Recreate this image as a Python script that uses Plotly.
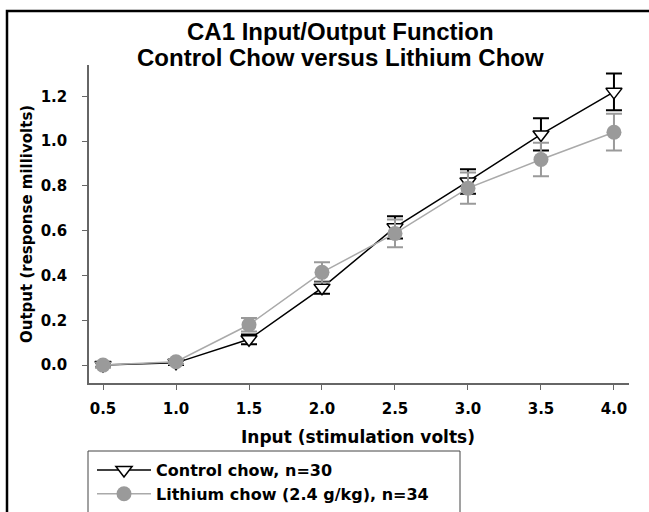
import plotly.graph_objects as go

# ---- data ----
stim_volts = [0.5, 1.0, 1.5, 2.0, 2.5, 3.0, 3.5, 4.0]
control_mean = [0.0, 0.01, 0.115, 0.345, 0.615, 0.82, 1.03, 1.22]
control_sem = [0.01, 0.01, 0.022, 0.027, 0.05, 0.055, 0.072, 0.082]
lithium_mean = [0.0, 0.015, 0.18, 0.414, 0.588, 0.79, 0.918, 1.04]
lithium_sem = [0.01, 0.01, 0.03, 0.045, 0.062, 0.07, 0.075, 0.082]
y_ticks = [0.0, 0.2, 0.4, 0.6, 0.8, 1.0, 1.2]
x_ticks = [0.5, 1.0, 1.5, 2.0, 2.5, 3.0, 3.5, 4.0]
title_lines = ["CA1 Input/Output Function", "Control Chow versus Lithium Chow"]

W, H = 649, 512
L, R, T, B = 89, 20, 65, 129
PW, PH = W - L - R, H - T - B

def px(x):
    return (x - L) / PW

def py(y):
    return (H - B - y) / PH

FONT = "DejaVu Sans, Verdana, sans-serif"
TFONT = "Liberation Sans, Arial, sans-serif"
GRAY = "#9a9a9a"

fig = go.Figure()
fig.add_trace(go.Scatter(
    x=stim_volts, y=control_mean, mode="lines+markers",
    name="<b>Control chow, n=30</b>",
    line=dict(color="black", width=1.5),
    marker=dict(symbol="triangle-down", size=14, color="white", line=dict(color="black", width=1.5)),
    error_y=dict(type="data", array=control_sem, color="black", thickness=2, width=8),
))
fig.add_trace(go.Scatter(
    x=stim_volts, y=lithium_mean, mode="lines+markers",
    name="<b>Lithium chow (2.4 g/kg), n=34</b>",
    line=dict(color="#aaaaaa", width=1.5),
    marker=dict(symbol="circle", size=15, color=GRAY, line=dict(width=0)),
    error_y=dict(type="data", array=lithium_sem, color=GRAY, thickness=2, width=8),
))

fig.update_layout(
    width=W, height=H,
    margin=dict(l=L, r=R, t=T, b=B, autoexpand=False),
    paper_bgcolor="white", plot_bgcolor="white",
    font=dict(family=FONT, color="black"),
    showlegend=True,
    legend=dict(
        x=px(92), y=py(511), xanchor="left", yanchor="bottom",
        bgcolor="rgba(0,0,0,0)", borderwidth=0,
        font=dict(size=16, family=FONT, color="black"),
        traceorder="normal", itemwidth=54, tracegroupgap=0,
    ),
    xaxis=dict(
        range=[0.404, 4.103], tickvals=x_ticks,
        ticktext=[f"<b>{v:.1f}</b>" for v in x_ticks],
        showline=True, linecolor="#666666", linewidth=1.5,
        ticks="outside", ticklen=5, tickcolor="#666666", tickwidth=1,
        showgrid=False, zeroline=False, automargin=False,
        tickfont=dict(size=15, family=FONT, color="black"),
        ticklabelstandoff=6,
    ),
    yaxis=dict(
        range=[-0.08, 1.34], tickvals=y_ticks,
        ticktext=[f"<b>{v:.1f}</b>" for v in y_ticks],
        showline=True, linecolor="#666666", linewidth=1.5,
        ticks="outside", ticklen=5, tickcolor="#666666", tickwidth=1,
        showgrid=False, zeroline=False, automargin=False,
        tickfont=dict(size=15, family=FONT, color="black"),
        ticklabelstandoff=12,
    ),
)

for i, line in enumerate(title_lines):
    fig.add_annotation(
        text=f"<b>{line}</b>",
        xref="paper", yref="paper", x=px(340), y=py(31 + 26 * i),
        xanchor="center", yanchor="middle", showarrow=False,
        font=dict(size=24, family=TFONT, color="black"),
    )
fig.add_annotation(
    text="<b>Input (stimulation volts)</b>",
    xref="paper", yref="paper", x=px(358), y=py(437),
    xanchor="center", yanchor="middle", showarrow=False,
    font=dict(size=17, family=FONT, color="black"),
)
fig.add_annotation(
    text="<b>Output (response millivolts)</b>",
    xref="paper", yref="paper", x=px(27), y=py(224),
    xanchor="center", yanchor="middle", showarrow=False, textangle=-90,
    font=dict(size=15, family=FONT, color="black"),
)

# outer frame (right and bottom edges lie outside the picture) and legend box
fig.add_shape(type="rect", xref="paper", yref="paper",
              x0=px(7), x1=px(670), y0=py(11), y1=py(530),
              line=dict(color="black", width=2.5), layer="below")
fig.add_shape(type="rect", xref="paper", yref="paper",
              x0=px(88), x1=px(460), y0=py(451), y1=py(530),
              line=dict(color="#444444", width=1), layer="below")

fig.write_html(
    "out.html",
    config={"displayModeBar": False},
    post_script="document.body.style.margin='0';document.body.style.padding='0';",
)
